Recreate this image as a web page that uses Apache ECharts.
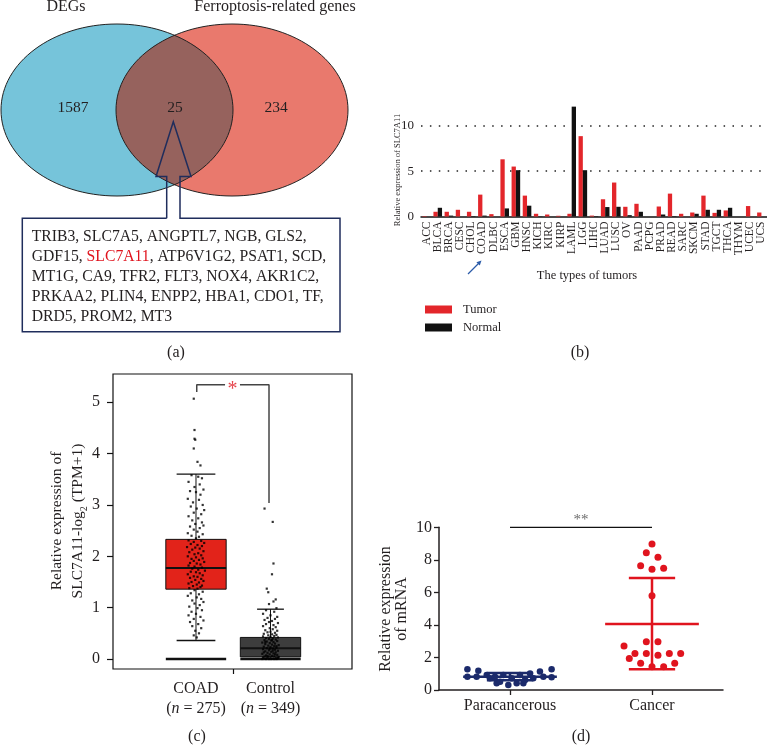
<!DOCTYPE html>
<html><head><meta charset="utf-8">
<script src="https://cdn.jsdelivr.net/npm/echarts@6/dist/echarts.min.js"></script>
<style>html,body{margin:0;padding:0;background:#fff}#c{width:767px;height:747px}</style>
</head><body><div id="c"></div>
<script>
// ---------- Panel (a): Venn ----------
const vennSets = ['DEGs', 'Ferroptosis-related genes'];
const vennCounts = [1587, 25, 234]; // DEGs only, overlap, ferroptosis only
const geneLines = [
  ['TRIB3', 'SLC7A5', 'ANGPTL7', 'NGB', 'GLS2'],
  ['GDF15', 'SLC7A11', 'ATP6V1G2', 'PSAT1', 'SCD'],
  ['MT1G', 'CA9', 'TFR2', 'FLT3', 'NOX4', 'AKR1C2'],
  ['PRKAA2', 'PLIN4', 'ENPP2', 'HBA1', 'CDO1', 'TF'],
  ['DRD5', 'PROM2', 'MT3']
];
const highlightGene = 'SLC7A11';
const panelLabels = ['(a)', '(b)', '(c)', '(d)'];

// ---------- Panel (b): bars ----------
const tumorTypes = ['ACC','BLCA','BRCA','CESC','CHOL','COAD','DLBC','ESCA','GBM','HNSC','KICH','KIRC','KIRP','LAML','LGG','LIHC','LUAD','LUSC','OV','PAAD','PCPG','PRAD','READ','SARC','SKCM','STAD','TGCT','THCA','THYM','UCEC','UCS'];
const tumorExpr  = [0.05,0.52,0.52,0.74,0.52,2.41,0.26,6.3,5.5,2.3,0.3,0.22,0.08,0.3,8.85,0.1,1.9,3.74,1.07,1.4,0,1.1,2.52,0.3,0.44,2.3,0.4,0.67,0,1.15,0.44];
const normalExpr = [0,0.96,0.1,0,0.05,0.1,0,0.89,5.1,1.19,0.03,0,0,12.1,5.1,0.05,1.04,1.07,0.15,0.52,0,0.22,0.05,0,0.3,0.74,0.74,0.96,0,0,0];
const bSeriesNames = ['Tumor', 'Normal'];
const bYTitle = 'Relative expression of SLC7A11';
const bXTitle = 'The types of tumors';

// ---------- Panel (c): boxplot ----------
const cGroups = ['COAD', 'Control'];
const cN = [275, 349];
// [lower whisker, Q1, median, Q3, upper whisker, floor]
const cBoxes = [[0.36, 1.36, 1.77, 2.33, 3.6, 0], [0, 0.04, 0.21, 0.42, 0.97, 0]];
const cYTicks = [0, 1, 2, 3, 4, 5];
const cSigMark = '*';
const cBracketLeft = [[0.01, 5.2], [0.01, 5.34], [0.39, 5.34]];
const cBracketRight = [[0.59, 5.34], [0.98, 5.34], [0.98, 3.04]];
// [jitter offset, value]
const coadPoints = [
 [-0.03,5.07],[-0.02,4.46],[-0.02,4.29],[-0.01,4.27],[-0.03,4.1],[0.02,3.84],[0.06,3.77],
 [-0.06,3.58],[0.03,3.55],[0.08,3.52],[-0.1,3.45],[0.05,3.4],[-0.02,3.35],[0.1,3.3],[-0.08,3.27],[0.0,3.25],[0.06,3.2],[-0.11,3.12],[0.04,3.1],[-0.04,3.05],[0.09,3.0],[-0.07,2.97],[0.01,2.93],[0.11,2.9],[-0.03,2.85],[0.07,2.82],[-0.1,2.78],[0.03,2.74],[-0.05,2.7],[0.08,2.66],[-0.01,2.63],[0.1,2.6],[-0.08,2.58],[0.05,2.55],[-0.03,2.52],[0.02,2.48],[-0.11,2.45],[0.09,2.43],[-0.06,2.4],[0.04,2.38],[0.0,2.35],
 [-0.1,2.31],[0.07,2.3],[-0.03,2.28],[0.11,2.26],[-0.07,2.24],[0.02,2.22],[0.08,2.2],[-0.12,2.18],[-0.01,2.17],[0.05,2.15],[-0.05,2.13],[0.1,2.1],[-0.09,2.08],[0.03,2.06],[-0.02,2.04],[0.07,2.02],[-0.11,2.0],[0.0,1.98],[0.09,1.96],[-0.06,1.95],[0.04,1.93],[-0.03,1.91],[0.11,1.89],[-0.08,1.87],[0.01,1.86],[0.06,1.84],[-0.1,1.82],[-0.02,1.8],[0.08,1.78],[-0.05,1.76],[0.03,1.74],[0.12,1.72],[-0.07,1.7],[0.0,1.69],[0.05,1.67],[-0.11,1.65],[0.09,1.63],[-0.03,1.61],[0.02,1.6],[-0.08,1.58],[0.07,1.56],[-0.01,1.54],[0.1,1.52],[-0.06,1.5],[0.04,1.49],[-0.1,1.47],[0.01,1.45],[0.08,1.43],[-0.04,1.42],[0.06,1.4],[-0.09,1.38],[0.02,1.37],
 [-0.02,1.34],[0.09,1.31],[-0.07,1.28],[0.04,1.26],[-0.11,1.23],[0.01,1.2],[0.07,1.17],[-0.05,1.14],[0.1,1.11],[-0.02,1.08],[0.05,1.05],[-0.09,1.02],[0.02,0.99],[0.08,0.95],[-0.06,0.92],[0.0,0.88],[-0.1,0.85],[0.06,0.82],[-0.03,0.78],[0.1,0.75],[-0.08,0.72],[0.03,0.68],[-0.05,0.64],[0.07,0.6],[-0.01,0.55],[0.04,0.5],[-0.03,0.46],[0.01,0.42]
];
const controlPoints = [
 [-0.08,2.93],[0.03,2.67],[0.04,1.86],[0.02,1.65],[-0.05,1.37],[-0.03,1.3],[0.07,1.16],[0.04,1.12],[-0.02,1.07],[0.08,0.99],
 [-0.06,0.95],[0.05,0.92],[-0.1,0.88],[0.0,0.85],[0.09,0.82],[-0.04,0.8],[0.06,0.78],[-0.08,0.76],[0.02,0.74],[-0.02,0.72],[0.1,0.7],[-0.06,0.68],[0.04,0.66],[-0.1,0.64],[0.07,0.62],[-0.01,0.6],[0.03,0.58],[-0.07,0.56],[0.09,0.55],[0.0,0.53],[-0.04,0.52],[0.06,0.51],
 [-0.09,0.49],[0.02,0.48],[0.08,0.47],[-0.03,0.46],[0.05,0.45],[-0.1,0.44],[0.0,0.43],[0.1,0.42],[-0.06,0.41],[0.03,0.4],[-0.02,0.39],[0.07,0.38],[-0.08,0.37],[0.01,0.36],[0.09,0.35],[-0.05,0.34],[0.04,0.33],[-0.11,0.32],[-0.01,0.31],[0.06,0.3],[-0.07,0.29],[0.02,0.28],[0.11,0.27],[-0.03,0.26],[0.05,0.25],[-0.09,0.24],[0.0,0.23],[0.08,0.22],[-0.05,0.21],[0.03,0.2],[-0.1,0.19],[0.06,0.18],[-0.02,0.17],[0.1,0.16],[-0.07,0.15],[0.01,0.14],[0.07,0.13],[-0.04,0.12],[0.04,0.11],[-0.11,0.1],[-0.01,0.09],[0.09,0.08],[-0.06,0.07],[0.02,0.06],[-0.08,0.05],[0.05,0.05],[-0.03,0.04],[0.11,0.04],[0.0,0.03],[-0.1,0.03],[0.07,0.02],[-0.05,0.02],[0.03,0.01],[-0.08,0.01],[0.09,0.01],[-0.02,0.0],[0.05,0.0],[-0.11,0.0],[0.01,0.0],[0.08,0.0],[-0.06,0.0],[0.1,0.02],[-0.04,0.06],[0.06,0.09],[-0.09,0.13],[0.03,0.16],[-0.01,0.2],[0.08,0.25],[-0.07,0.33],[0.02,0.37]
];

// ---------- Panel (d): dot plot ----------
const dGroups = ['Paracancerous', 'Cancer'];
const paraPoints = [
 [-0.30,1.27],[-0.30,0.82],[-0.223,1.19],[-0.235,0.82],[-0.164,0.92],[-0.141,0.72],[-0.106,0.82],[-0.094,0.41],[-0.07,0.51],[-0.047,0.92],[-0.012,0.31],[0.012,0.72],[0.047,0.41],[0.07,0.92],[0.094,0.41],[0.106,0.61],[0.141,1.02],[0.164,0.72],[0.211,1.13],[0.235,0.82],[0.293,1.27],[0.293,0.78]
];
const cancerPoints = [
 [0,8.98],[-0.04,8.44],[0.042,8.16],[-0.08,7.64],[0,7.42],[0.082,7.48],[0,5.8],[-0.04,2.97],[0.042,2.97],[-0.197,2.7],[-0.12,2.25],[-0.04,2.25],[0.042,2.13],[0.122,2.25],[0.202,2.25],[-0.16,1.93],[-0.08,1.64],[0.16,1.64],[0,1.43],[0.082,1.43]
];
// [mean, mean - SD, mean + SD]
const dMeanSD = [[0.82, 0.6, 1.05], [4.05, 1.27, 6.88]];
const dSigLine = [[0, 10], [1, 10]];
const dSigMark = '**';
const dYTitle = ['Relative expression', 'of mRNA'];
const cYTitle = ['Relative expression of', 'SLC7A11-log', '2', ' (TPM+1)'];

// ---------- Styles ----------
const SERIF = '"Liberation Serif", "Times New Roman", serif';
const INK = '#231F20';
const RED = '#E3262B';
const NAVY = '#1B2A6B';
const DRED = '#E0141E';

// Venn geometry
const V = { cy: 110, rx: 116, ry: 86, cxL: 117, cxR: 232 };
function ellipsePts(cx, cy, rx, ry, a0, a1, n) {
  const pts = [];
  for (let k = 0; k <= n; k++) { const t = a0 + (a1 - a0) * k / n; pts.push([cx + rx * Math.cos(t), cy + ry * Math.sin(t)]); }
  return pts;
}
const t0 = Math.acos(((V.cxR - V.cxL) / 2) / V.rx);
const lens = ellipsePts(V.cxL, V.cy, V.rx, V.ry, -t0, t0, 60).concat(ellipsePts(V.cxR, V.cy, V.rx, V.ry, Math.PI - t0, Math.PI + t0, 60));

const geneRich = geneLines.map((line, i) => {
  const last = i === geneLines.length - 1;
  return line.map((g, j) => {
    const sep = j < line.length - 1 ? ', ' : (last ? '' : ',');
    return g === highlightGene ? `{r|${g}}{a|${sep}}` : `{a|${g}${sep}}`;
  }).join('');
}).join('\n');

function txt(x, y, text, size, extra) {
  return Object.assign({
    type: 'text', x, y, z: 20,
    style: { text, fontSize: size, fontFamily: SERIF, fill: INK,
      align: 'center', verticalAlign: 'middle', textAlign: 'center', textVerticalAlign: 'middle' }
  }, extra || {});
}

const graphic = [
  { type: 'ellipse', z: 1, shape: { cx: V.cxL, cy: V.cy, rx: V.rx, ry: V.ry }, style: { fill: '#76C4DA', stroke: 'none' } },
  { type: 'ellipse', z: 2, shape: { cx: V.cxR, cy: V.cy, rx: V.rx, ry: V.ry }, style: { fill: '#E9796D', stroke: 'none' } },
  { type: 'polygon', z: 3, shape: { points: lens }, style: { fill: '#96625D', stroke: 'none' } },
  { type: 'ellipse', z: 4, shape: { cx: V.cxL, cy: V.cy, rx: V.rx, ry: V.ry }, style: { fill: 'none', stroke: '#222', lineWidth: 1 } },
  { type: 'ellipse', z: 4, shape: { cx: V.cxR, cy: V.cy, rx: V.rx, ry: V.ry }, style: { fill: 'none', stroke: '#222', lineWidth: 1 } },
  txt(66, 7, vennSets[0], 16),
  txt(275, 7, vennSets[1], 16),
  txt(73, 108, String(vennCounts[0]), 15.5),
  txt(175, 108, String(vennCounts[1]), 15.5),
  txt(276, 108, String(vennCounts[2]), 15.5),
  { type: 'polyline', z: 10, shape: { points: [[166.7,218.3],[166.7,176.5],[156,176.5],[173.3,121.7],[191,176.5],[180,176.5],[180,218.3],[340,218.3],[340,331.7],[22.3,331.7],[22.3,218.3],[166.7,218.3]] },
    style: { stroke: '#1F2D5C', lineWidth: 1.5, fill: 'none' } },
  { type: 'text', x: 31.7, y: 227, z: 20, style: { text: geneRich, align: 'left', verticalAlign: 'top', textAlign: 'left', textVerticalAlign: 'top',
      rich: { a: { fontSize: 15.7, fontFamily: SERIF, fill: INK, color: INK, lineHeight: 20 },
              r: { fontSize: 15.7, fontFamily: SERIF, fill: DRED, color: DRED, lineHeight: 20 } } } },
  txt(176, 353, panelLabels[0], 16),
  txt(580, 353, panelLabels[1], 16),
  txt(197, 737, panelLabels[2], 16),
  txt(581, 737, panelLabels[3], 16),
  // panel b titles & arrow
  txt(398, 170, bYTitle, 8.5, { rotation: Math.PI / 2 }),
  txt(587, 276, bXTitle, 12.5),
  { type: 'line', z: 20, shape: { x1: 468, y1: 274, x2: 478.5, y2: 263.5 }, style: { stroke: '#2B5BA8', lineWidth: 1.3 } },
  { type: 'polygon', z: 20, shape: { points: [[481.5, 260.5], [479.8, 265.6], [476.4, 262.2]] }, style: { fill: '#2B5BA8' } },
  // panel c y title
  txt(57, 521, cYTitle[0], 15.5, { rotation: Math.PI / 2 }),
  { type: 'text', x: 78, y: 521, z: 20, rotation: Math.PI / 2,
    style: { text: `{t|${cYTitle[1]}}{s|${cYTitle[2]}}{t|${cYTitle[3]}}`, align: 'center', verticalAlign: 'middle', textAlign: 'center', textVerticalAlign: 'middle',
      rich: { t: { fontSize: 15.5, fontFamily: SERIF, fill: INK, color: INK, lineHeight: 22, verticalAlign: 'middle' },
              s: { fontSize: 10, fontFamily: SERIF, fill: INK, color: INK, lineHeight: 12, verticalAlign: 'bottom' } } } },
  // panel d y title
  txt(386, 609, dYTitle[0], 16, { rotation: Math.PI / 2 }),
  txt(402, 609, dYTitle[1], 16, { rotation: Math.PI / 2 })
];

const chart = echarts.init(document.getElementById('c'), null, { renderer: 'canvas' });

const boxColors = ['#E2231A', '#3D3D3D'];
const capHalf = [0.26, 0.18];
const boxHalf = 0.405;

function renderBox(params, api) {
  const i = api.value(0), lo = api.value(1), q1 = api.value(2), md = api.value(3), q3 = api.value(4), hi = api.value(5), fl = api.value(6);
  const P = (x, y) => api.coord([x, y]);
  const L = (a, b, w) => ({ type: 'line', shape: { x1: a[0], y1: a[1], x2: b[0], y2: b[1] }, style: { stroke: '#111', lineWidth: w } });
  const cw = capHalf[params.dataIndex];
  const tl = P(i - boxHalf, q3), br = P(i + boxHalf, q1);
  const ch = [
    L(P(i, q3), P(i, hi), 1),
    L(P(i - cw, hi), P(i + cw, hi), 1.3)
  ];
  if (lo > fl + 0.01) { ch.push(L(P(i, q1), P(i, lo), 1)); ch.push(L(P(i - cw, lo), P(i + cw, lo), 1.3)); }
  ch.push({ type: 'rect', shape: { x: tl[0], y: tl[1], width: br[0] - tl[0], height: br[1] - tl[1] }, style: { fill: boxColors[params.dataIndex], stroke: '#111', lineWidth: 1 } });
  ch.push(L(P(i - boxHalf, md), P(i + boxHalf, md), 2));
  ch.push(L(P(i - boxHalf, fl), P(i + boxHalf, fl), 2.6));
  return { type: 'group', children: ch };
}

const dColors = [NAVY, DRED];
function renderMeanSD(params, api) {
  const i = api.value(0), m = api.value(1), lo = api.value(2), hi = api.value(3);
  const c = dColors[params.dataIndex];
  const P = (x, y) => api.coord([x, y]);
  const L = (a, b) => ({ type: 'line', shape: { x1: a[0], y1: a[1], x2: b[0], y2: b[1] }, style: { stroke: c, lineWidth: 2.5 } });
  return { type: 'group', children: [
    L(P(i, lo), P(i, hi)),
    L(P(i - 0.163, lo), P(i + 0.163, lo)),
    L(P(i - 0.163, hi), P(i + 0.163, hi)),
    L(P(i - 0.33, m), P(i + 0.33, m))
  ] };
}

const labelStyle = { fontFamily: SERIF, color: INK };

const option = {
  animation: false,
  backgroundColor: '#fff',
  graphic: graphic,
  legend: {
    data: bSeriesNames, orient: 'vertical', left: 420, top: 298, itemWidth: 27, itemHeight: 8, itemGap: 5,
    icon: 'rect', selectedMode: false,
    textStyle: { fontFamily: SERIF, fontSize: 12.5, color: INK, padding: [0, 0, 0, 6] }
  },
  grid: [
    { left: 421, top: 80.3, width: 346, height: 136.2, containLabel: false, outerBoundsMode: 'none' },
    { left: 113, top: 374, width: 239, height: 295, containLabel: false, outerBoundsMode: 'none', show: true, borderColor: '#111', borderWidth: 1.2, backgroundColor: 'transparent' },
    { left: 439, top: 527.3, width: 284, height: 162.7, containLabel: false, outerBoundsMode: 'none' }
  ],
  xAxis: [
    { type: 'category', gridIndex: 0, data: tumorTypes, boundaryGap: true,
      axisLine: { show: true, lineStyle: { color: '#111', width: 1.5 } }, axisTick: { show: false },
      axisLabel: Object.assign({ rotate: 90, fontSize: 11.5, margin: 5, interval: 0 }, labelStyle), splitLine: { show: false } },
    { type: 'value', gridIndex: 1, min: -1.114, max: 2.094,
      axisLine: { show: false, onZero: false }, splitLine: { show: false },
      axisTick: { show: true, customValues: [0.5], length: 5, lineStyle: { color: '#111', width: 1.2 } },
      axisLabel: { show: true, customValues: [0, 1], margin: 10,
        formatter: v => { const i = Math.round(v); return `{a|${cGroups[i]}}\n{a|(}{i|n}{a| = ${cN[i]})}`; },
        rich: { a: { fontFamily: SERIF, fontSize: 16, color: INK, lineHeight: 20 }, i: { fontFamily: SERIF, fontSize: 16, color: INK, lineHeight: 20, fontStyle: 'italic' } } } },
    { type: 'value', gridIndex: 2, min: -0.5, max: 1.5,
      axisLine: { show: true, onZero: false, lineStyle: { color: INK, width: 1.5 } }, splitLine: { show: false },
      axisTick: { show: true, customValues: [0, 1], length: 5, lineStyle: { color: INK, width: 1.3 } },
      axisLabel: Object.assign({ show: true, customValues: [0, 1], margin: 8, fontSize: 16, formatter: v => dGroups[Math.round(v)] }, labelStyle) }
  ],
  yAxis: [
    { type: 'value', gridIndex: 0, min: 0, max: 15, interval: 5,
      axisLine: { show: false }, axisTick: { show: false },
      axisLabel: Object.assign({ fontSize: 13, margin: 7, showMaxLabel: false }, labelStyle),
      splitLine: { show: true, showMaxLine: false, showMinLine: false, lineStyle: { type: [1.5, 7.4], color: '#222', width: 1.5 } } },
    { type: 'value', gridIndex: 1, min: -0.195, max: 5.551,
      axisLine: { show: false, onZero: false }, splitLine: { show: false },
      axisTick: { show: true, customValues: cYTicks, length: 6, lineStyle: { color: '#111', width: 1.2 } },
      axisLabel: Object.assign({ show: true, customValues: cYTicks, fontSize: 16, margin: 13 }, labelStyle) },
    { type: 'value', gridIndex: 2, min: 0, max: 10, interval: 2,
      axisLine: { show: true, onZero: false, lineStyle: { color: INK, width: 1.5 } }, splitLine: { show: false },
      axisTick: { show: true, length: 5, lineStyle: { color: INK, width: 1.3 } },
      axisLabel: Object.assign({ fontSize: 16, margin: 7 }, labelStyle) }
  ],
  series: [
    { type: 'bar', name: bSeriesNames[0], xAxisIndex: 0, yAxisIndex: 0, data: tumorExpr, barWidth: 4.3, barGap: '0%', itemStyle: { color: RED } },
    { type: 'bar', name: bSeriesNames[1], xAxisIndex: 0, yAxisIndex: 0, data: normalExpr, barWidth: 4.3, barGap: '0%', itemStyle: { color: '#111' } },

    { type: 'custom', name: 'box', xAxisIndex: 1, yAxisIndex: 1, data: cBoxes.map((b, i) => [i].concat(b)), renderItem: renderBox, silent: true },
    { type: 'scatter', name: 'coadPts', xAxisIndex: 1, yAxisIndex: 1, symbol: 'rect', symbolSize: 2.2, itemStyle: { color: '#000' }, data: coadPoints.map(p => [0 + p[0], p[1]]), silent: true },
    { type: 'scatter', name: 'ctrlPts', xAxisIndex: 1, yAxisIndex: 1, symbol: 'rect', symbolSize: 2.2, itemStyle: { color: '#000' }, data: controlPoints.map(p => [1 + p[0], p[1]]), silent: true },
    { type: 'line', name: 'brL', xAxisIndex: 1, yAxisIndex: 1, data: cBracketLeft, symbol: 'none', clip: false, lineStyle: { color: '#444', width: 1.5 }, silent: true },
    { type: 'line', name: 'brR', xAxisIndex: 1, yAxisIndex: 1, data: cBracketRight, symbol: 'none', clip: false, lineStyle: { color: '#444', width: 1.5 }, silent: true },
    { type: 'scatter', name: 'star', xAxisIndex: 1, yAxisIndex: 1, data: [[0.49, 5.34]], symbolSize: 0, silent: true,
      label: { show: true, position: 'inside', formatter: cSigMark, color: DRED, fontSize: 20, fontFamily: SERIF, offset: [0, 5] } },

    { type: 'scatter', name: 'para', xAxisIndex: 2, yAxisIndex: 2, symbolSize: 6.5, itemStyle: { color: NAVY, opacity: 1 }, data: paraPoints.map(p => [0 + p[0], p[1]]), silent: true },
    { type: 'scatter', name: 'cancer', xAxisIndex: 2, yAxisIndex: 2, symbolSize: 7, itemStyle: { color: DRED, opacity: 1 }, data: cancerPoints.map(p => [1 + p[0], p[1]]), silent: true },
    { type: 'custom', name: 'meansd', xAxisIndex: 2, yAxisIndex: 2, data: dMeanSD.map((m, i) => [i].concat(m)), renderItem: renderMeanSD, silent: true },
    { type: 'line', name: 'sigD', xAxisIndex: 2, yAxisIndex: 2, data: dSigLine, symbol: 'none', clip: false, lineStyle: { color: '#111', width: 1.2 }, silent: true },
    { type: 'scatter', name: 'sigDMark', xAxisIndex: 2, yAxisIndex: 2, data: [[0.5, 10]], symbolSize: 0, silent: true,
      label: { show: true, position: 'top', distance: 0, formatter: dSigMark, color: '#444', fontSize: 15, fontFamily: SERIF } }
  ]
};
chart.setOption(option);
</script>
</body></html>
